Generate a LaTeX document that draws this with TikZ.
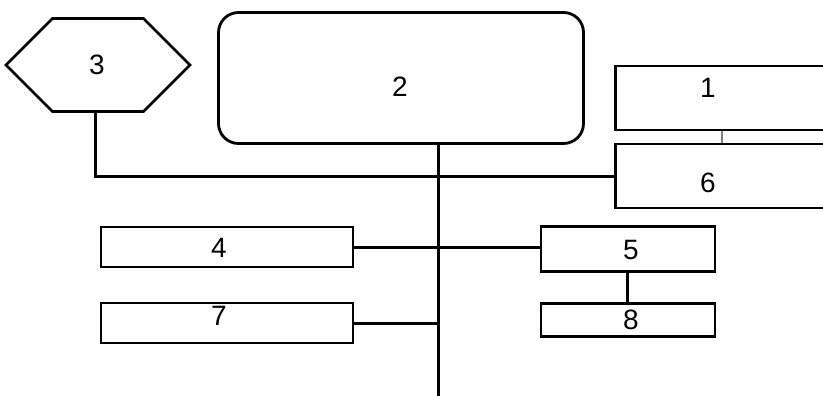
\documentclass[tikz,border=0pt]{standalone}
\usepackage{fontspec}
\setmainfont{Liberation Sans}
\usetikzlibrary{positioning,shapes.symbols}

\begin{document}
\begin{tikzpicture}[
  x=1pt, y=-1pt,
  font=\fontsize{28}{31}\selectfont,
  line width=2.8pt,
  box/.style={draw, rectangle, inner sep=0pt},
  roundbox/.style={box, rounded corners=20pt},
  cutbox/.style={box, anchor=west, minimum width=240pt, minimum height=64pt},
  hexa/.style={draw, signal, signal to=west and east, signal pointer angle=90,
    minimum width=184pt, minimum height=93pt, inner sep=0pt},
  tag/.style={inner sep=0pt},
  link/.style={line width=3pt}
]
  \path[use as bounding box, clip] (0,0) rectangle (823,396);

  % Top row
  \node[hexa] (n3) at (98,65) {};
  \node[tag] (t3) at (97,65) {3};
  \node[roundbox, minimum width=365pt, minimum height=131pt] (n2) at (401,78) {};
  \node[tag] (t2) at (400,87) {2};
  \node[cutbox] (n1) at (614,98) {};
  \node[tag] (t1) at (708,88) {1};
  \node[cutbox] (n6) at (614,176) {};
  \node[tag] (t6) at (708,183) {6};

  % Left column
  \node[box, minimum width=252pt, minimum height=40pt] (n4) at (227,247) {};
  \node[tag] (t4) at (219,248) {4};
  \node[box, minimum width=252pt, minimum height=40pt] (n7) at (227,323) {};
  \node[tag] (t7) at (219,316) {7};

  % Right column
  \node[box, minimum width=174pt, minimum height=45pt] (n5) at (628,249) {};
  \node[tag] (t5) at (631,250) {5};
  \node[box, minimum width=174pt, minimum height=33pt] (n8) at (628,320) {};
  \node[tag] (t8) at (631,320) {8};

  % Trunk end below the picture
  \coordinate (bot) at (438,400);

  % Connectors
  \draw[link] (n2.south -| bot) -- (bot);
  \draw[link] (n3.south -| 95,0) -- (95,0 |- n6.west) -- (n6.west);
  \draw[link] (n4.east) -- (n4.east -| n5.west);
  \draw[link] (n7.east) -- (n7.east -| bot);
  \draw[link] (n5.south -| 627,0) -- (n8.north -| 627,0);
  \draw[line width=1.5pt, gray] ([xshift=108pt]n1.south west) -- ([xshift=108pt]n6.north west);
\end{tikzpicture}
\end{document}
